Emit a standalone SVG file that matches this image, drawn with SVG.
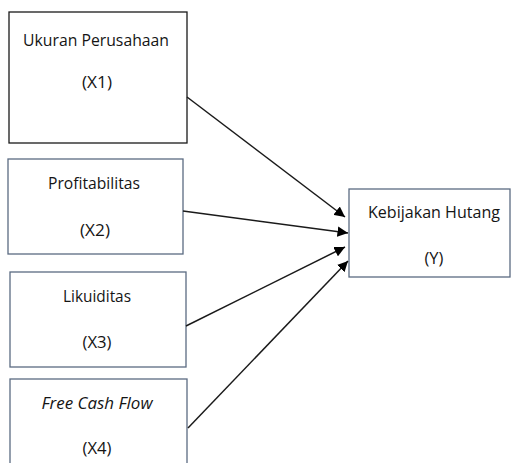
<svg xmlns="http://www.w3.org/2000/svg" width="512" height="463" viewBox="0 0 512 463">
<style>
.box{fill:#fff;stroke:#5b6b82;stroke-width:1.3}
.bk{stroke:#1a1a1a}
text{font-family:"Open Sans","Liberation Sans",sans-serif;font-size:16.5px;fill:#151515;text-anchor:middle}
.it{font-style:italic}
.c{stroke:#1a1a1a;stroke-width:1.5;fill:none;marker-end:url(#ah)}
</style>
<defs>
<marker id="ah" viewBox="0 0 10 10" refX="10" refY="5" markerWidth="7" markerHeight="7" orient="auto" markerUnits="strokeWidth">
<path d="M0,0 L10,5 L0,10 z" fill="#000"/>
</marker>
</defs>
<rect x="0" y="0" width="512" height="463" fill="#fff"/>
<g id="x1"><rect class="box bk" x="9" y="12" width="178" height="131"/><text x="96" y="46" textLength="146" lengthAdjust="spacingAndGlyphs">Ukuran Perusahaan</text><text x="97" y="88" textLength="30" lengthAdjust="spacingAndGlyphs">(X1)</text></g>
<g id="x2"><rect class="box" x="8" y="159" width="175" height="95"/><text x="94" y="189" textLength="92" lengthAdjust="spacingAndGlyphs">Profitabilitas</text><text x="95" y="236" textLength="30" lengthAdjust="spacingAndGlyphs">(X2)</text></g>
<g id="x3"><rect class="box" x="10" y="272" width="176" height="95"/><text x="97" y="302" textLength="68" lengthAdjust="spacingAndGlyphs">Likuiditas</text><text x="97" y="348" textLength="29" lengthAdjust="spacingAndGlyphs">(X3)</text></g>
<g id="x4"><rect class="box" x="10" y="379" width="177" height="90"/><text class="it" x="97" y="409" textLength="111" lengthAdjust="spacingAndGlyphs">Free Cash Flow</text><text x="97" y="454" textLength="29" lengthAdjust="spacingAndGlyphs">(X4)</text></g>
<g id="y"><rect class="box" x="349" y="189" width="161" height="88"/><text x="434" y="218" textLength="132" lengthAdjust="spacingAndGlyphs">Kebijakan Hutang</text><text x="434" y="264" textLength="19" lengthAdjust="spacingAndGlyphs">(Y)</text></g>
<g id="connectors">
<line class="c" x1="187" y1="97" x2="345" y2="217"/>
<line class="c" x1="183" y1="211" x2="348" y2="233"/>
<line class="c" x1="186" y1="326" x2="345" y2="247"/>
<line class="c" x1="188" y1="428" x2="348" y2="261"/>
</g>
</svg>
